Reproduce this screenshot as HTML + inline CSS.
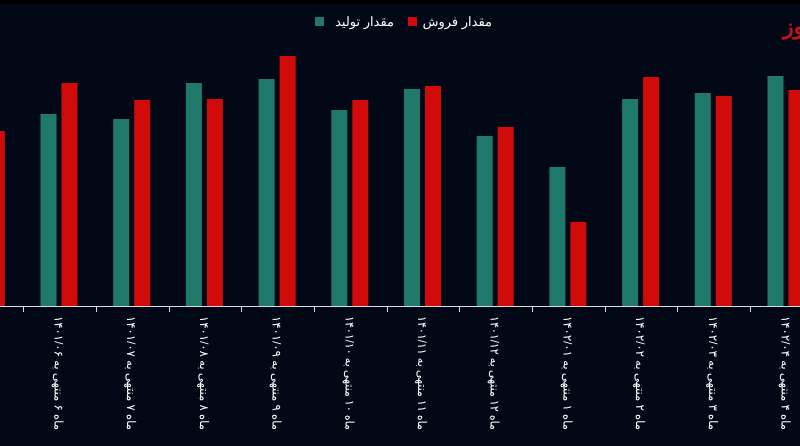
<!DOCTYPE html>
<html><head><meta charset="utf-8"><style>
html,body{margin:0;padding:0;background:#030817;}
svg{display:block;font-family:"Liberation Sans","Noto Sans CJK SC",sans-serif;}
</style></head><body>
<svg id="chart" width="800" height="446" viewBox="0 0 800 446">
<rect x="0" y="0" width="800" height="446" fill="#030817"/>
<rect x="0" y="0" width="800" height="4" fill="#000"/>
<g>
<rect x="315" y="17" width="9" height="9" fill="#1f7a6c"/>
<text x="394" y="26" fill="#fff" font-size="13" text-anchor="end">مقدار تولید</text>
<rect x="408" y="17" width="9" height="9" fill="#d10a0a"/>
<text x="492" y="26" fill="#fff" font-size="13" text-anchor="end">مقدار فروش</text>
</g>
<text x="783" y="34" fill="#c0141c" font-size="22" font-weight="bold">وز</text>
<g id="bars"></g>
<line x1="0" y1="306.5" x2="800" y2="306.5" stroke="#d8dce4" stroke-width="1"/>
<g id="ticks"></g>
</svg>
<script>
const categories=["ماه ۵ منتهی به ۱۴۰۱/۰۵","ماه ۶ منتهی به ۱۴۰۱/۰۶","ماه ۷ منتهی به ۱۴۰۱/۰۷","ماه ۸ منتهی به ۱۴۰۱/۰۸","ماه ۹ منتهی به ۱۴۰۱/۰۹","ماه ۱۰ منتهی به ۱۴۰۱/۱۰","ماه ۱۱ منتهی به ۱۴۰۱/۱۱","ماه ۱۲ منتهی به ۱۴۰۱/۱۲","ماه ۱ منتهی به ۱۴۰۲/۰۱","ماه ۲ منتهی به ۱۴۰۲/۰۲","ماه ۳ منتهی به ۱۴۰۲/۰۳","ماه ۴ منتهی به ۱۴۰۲/۰۴"];
const production=[180,192,187,223,227,196,217,170,139,207,213,230];
const sales=[175,223,206,207,250,206,220,179,84,229,210,216];
const ns="http://www.w3.org/2000/svg";
const baseY=306, pxPerUnit=1, step=72.7, firstCenter=-13.2;
function xC(i){return firstCenter+i*step;}
function yV(v){return baseY-v*pxPerUnit;}
const bars=document.getElementById('bars'), ticks=document.getElementById('ticks');
categories.forEach((c,i)=>{
  const cx=xC(i);
  const r1=document.createElementNS(ns,'rect');
  
  
  r1.setAttribute('x',cx-19);r1.setAttribute('width',16);
  r1.setAttribute('y',yV(production[i]));r1.setAttribute('height',baseY-yV(production[i]));
  r1.setAttribute('fill','#1f7a6c');bars.appendChild(r1);
  const r2=document.createElementNS(ns,'rect');
  
  
  r2.setAttribute('x',cx+2);r2.setAttribute('width',16);
  r2.setAttribute('y',yV(sales[i]));r2.setAttribute('height',baseY-yV(sales[i]));
  r2.setAttribute('fill','#d10a0a');bars.appendChild(r2);
  const t=document.createElementNS(ns,'line');
  
  
  const tx=Math.round(cx+step/2)+0.5;
  t.setAttribute('x1',tx);t.setAttribute('x2',tx);t.setAttribute('y1',306);t.setAttribute('y2',312);
  t.setAttribute('stroke','#d8dce4');ticks.appendChild(t);
  const lb=document.createElementNS(ns,'text');
  
  
  lb.setAttribute('transform','translate('+(cx-1)+',316) rotate(90)');
  lb.setAttribute('fill','#fff');lb.setAttribute('font-size','12');
  lb.setAttribute('textLength','114');lb.setAttribute('lengthAdjust','spacingAndGlyphs');
  lb.setAttribute('dominant-baseline','central');
  lb.textContent=c;ticks.appendChild(lb);
});
</script>
</body></html>
